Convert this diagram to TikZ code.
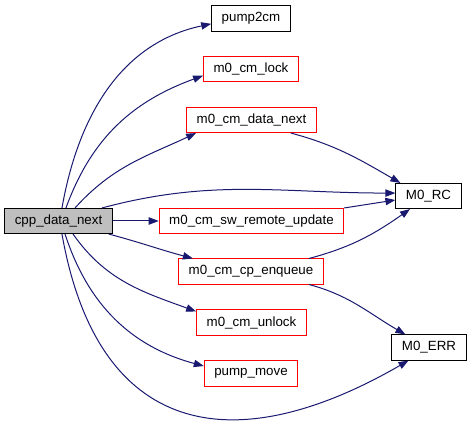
\documentclass[tikz,border=0pt]{standalone}
\usepackage{fontspec}
\setmainfont{Liberation Sans}
\usetikzlibrary{arrows.meta, calc}
\definecolor{edgeblue}{RGB}{25, 25, 112}
\definecolor{boxred}{RGB}{255, 0, 0}
\definecolor{focusgray}{RGB}{191, 191, 191}

\begin{document}
\begin{tikzpicture}[x=0.75pt, y=0.75pt,
  fn/.style={draw=black, line width=0.75pt, fill=white, minimum height=18.8pt, inner xsep=7.5pt, inner ysep=0pt, font=\fontsize{10}{12}\selectfont},
  fnred/.style={fn, draw=boxred},
  call/.style={draw=edgeblue, line width=0.75pt, -{Triangle[length=7.5pt, width=5.5pt]}}]
  \useasboundingbox (0, 0) rectangle (472, 429);

  % caller
  \node[fn, fill=focusgray] (cpp) at (58.5, 208) {cpp\_data\_next};

  % callees
  \node[fn] (pump2cm) at (251, 410.5) {pump2cm};
  \node[fnred] (lock) at (251, 360) {m0\_cm\_lock};
  \node[fnred] (datanext) at (251.5, 309) {m0\_cm\_data\_next};
  \node[fnred] (remote) at (251.5, 208) {m0\_cm\_sw\_remote\_update};
  \node[fnred] (enqueue) at (251, 157.5) {m0\_cm\_cp\_enqueue};
  \node[fnred] (unlock) at (251.5, 106.5) {m0\_cm\_unlock};
  \node[fnred] (pumpmove) at (251, 55.5) {pump\_move};
  \node[fn] (rc) at (428.5, 233) {M0\_RC};
  \node[fn] (err) at (429, 81.5) {M0\_ERR};

  % calls from cpp_data_next
  \draw[call] ([xshift=2.6pt]cpp.north) to[out=80, in=192] ([yshift=-4pt]pump2cm.west);
  \draw[call] ([xshift=5.6pt]cpp.north) to[out=70, in=200] ([yshift=-5pt]lock.west);
  \draw[call] ([xshift=12.4pt]cpp.north) to[out=48, in=205] ([xshift=7.5pt]datanext.south west);
  \draw[call] ([xshift=32.6pt]cpp.north) to[out=15, in=180] ([yshift=2.2pt]rc.west);
  \draw[call] (cpp.east) -- (remote.west);
  \draw[call] ([xshift=-3pt]cpp.south east) to[out=-15, in=165] ([xshift=11pt]enqueue.north west);
  \draw[call] ([xshift=10.9pt]cpp.south) to[out=-55, in=160] ([yshift=-1.5pt]unlock.north west);
  \draw[call] ([xshift=4.9pt]cpp.south) to[out=-72, in=165] ([yshift=5.6pt]pumpmove.west);
  \draw[call] ([xshift=2.6pt]cpp.south) to[out=-80, in=-150, looseness=1.42] ([xshift=12.8pt]err.south west);

  % further calls
  \draw[call] ([xshift=-19.5pt]datanext.south east) to[out=-15, in=150] ([xshift=3.75pt]rc.north west);
  \draw[call] (remote.north east) -- ([yshift=-3pt]rc.west);
  \draw[call] ([xshift=-11pt]enqueue.north east) to[out=15, in=-145] ([xshift=11pt]rc.south west);
  \draw[call] ([xshift=-11pt]enqueue.south east) to[out=-15, in=150] ([xshift=10.5pt]err.north west);
\end{tikzpicture}
\end{document}
